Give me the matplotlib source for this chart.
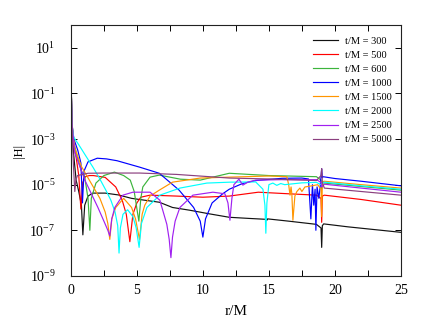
import numpy as np
import matplotlib
matplotlib.use("Agg")
import matplotlib.pyplot as plt
from matplotlib.ticker import FixedLocator, MultipleLocator, NullLocator

plt.rcParams['font.family'] = ['Liberation Serif', 'DejaVu Serif']
plt.rcParams['mathtext.fontset'] = 'custom'
plt.rcParams['mathtext.rm'] = 'Liberation Serif'
plt.rcParams['mathtext.it'] = 'Liberation Serif:italic'
plt.rcParams['mathtext.bf'] = 'Liberation Serif:bold'

labels = ["t/M = 300", "t/M = 500", "t/M = 600", "t/M = 1000",
          "t/M = 1500", "t/M = 2000", "t/M = 2500", "t/M = 5000"]
colors = ["#111111", "#ff0000", "#3cb43c", "#0000ff",
          "#ff9500", "#00ffff", "#a020f0", "#8b3f7f"]

# r/M positions and log10|H| values
r_300 = [0, 0.08, 0.2, 0.4, 0.6, 0.8, 0.91, 1.05, 1.3, 1.67, 2.6, 3.6, 4.6, 5.2, 6.7, 7.7, 9.0,
         10.5, 12.0, 13.5, 14.8, 14.85, 14.9, 16.5, 18.6, 18.95, 19.0, 19.05, 19.15, 21, 23, 25]
e_300 = [0.2, -2.3, -3.6, -4.8, -5.3, -5.9, -7.2, -5.9, -5.5, -5.37, -5.37, -5.45, -5.6, -5.65,
         -5.77, -6.0, -6.12, -6.28, -6.43, -6.48, -6.52, -6.56, -6.5, -6.6, -6.74, -6.9, -7.75,
         -6.8, -6.72, -6.85, -6.97, -7.09]

r_500 = [0, 0.08, 0.2, 0.4, 0.6, 0.76, 0.9, 1.1, 1.4, 1.7, 2.6, 3.4, 3.9, 4.2, 4.47, 4.7, 5.0,
         5.3, 6.0, 8.0, 10.0, 12.0, 14.2, 16.5, 18.6, 18.95, 19.0, 19.05, 19.2, 22, 25]
e_500 = [0.2, -2.3, -3.2, -3.8, -4.6, -6.07, -4.9, -4.65, -4.6, -4.6, -4.68, -5.1, -5.7, -6.3,
         -7.5, -6.3, -5.8, -5.55, -5.46, -5.5, -5.55, -5.5, -5.33, -5.4, -5.46, -5.6, -6.65,
         -5.5, -5.46, -5.65, -5.9]

r_600 = [0, 0.08, 0.2, 0.5, 0.8, 1.05, 1.3, 1.44, 1.55, 1.9, 2.5, 3.3, 4.0, 4.5, 4.8, 5.15,
         5.3, 5.45, 6.0, 6.7, 8.3, 9.8, 12.0, 15.0, 18.6, 18.95, 19.0, 19.1, 19.2, 22, 25]
e_600 = [0.2, -2.3, -3.1, -3.8, -4.4, -4.67, -5.6, -7.0, -5.6, -4.93, -4.6, -4.45, -4.6, -4.8,
         -5.3, -6.6, -5.6, -5.1, -4.67, -4.58, -4.76, -4.8, -4.5, -4.6, -4.65, -4.8, -5.2,
         -4.85, -4.93, -5.08, -5.24]

r_1000 = [0, 0.08, 0.23, 0.53, 0.76, 0.88, 1.0, 1.3, 2.0, 2.7, 3.5, 5.2, 6.7, 8.2, 9.3, 9.8,
          10.0, 10.2, 10.7, 11.5, 12.0, 13.0, 14.0, 16.0, 17.5, 18.0, 18.18, 18.3, 18.4, 18.5,
          18.56, 18.65, 18.79, 18.9, 19.0, 19.05, 19.1, 20, 22, 25]
e_1000 = [0.2, -2.3, -3.0, -3.5, -4.05, -5.8, -4.4, -4.0, -3.84, -3.87, -3.95, -4.23, -4.5,
          -5.24, -6.0, -6.6, -7.3, -6.5, -5.8, -5.4, -5.2, -4.95, -4.82, -4.72, -4.71, -4.75,
          -6.5, -5.0, -5.9, -5.2, -7.0, -5.1, -5.6, -5.0, -4.3, -4.7, -4.65, -4.73, -4.85, -5.05]

r_1500 = [0, 0.08, 0.3, 0.8, 1.5, 2.2, 2.6, 2.8, 2.95, 3.1, 3.4, 4.0, 4.6, 4.9, 5.2, 5.4, 5.6,
          6.0, 6.7, 7.7, 9.8, 12.0, 15.0, 16.36, 16.5, 16.6, 16.68, 16.74, 16.82, 16.97, 17.12,
          17.35, 17.5, 17.73, 18.26, 18.7, 18.95, 19.0, 19.05, 19.2, 22, 25]
e_1500 = [0.2, -2.3, -3.4, -4.2, -4.9, -5.6, -6.2, -6.7, -7.4, -6.5, -6.0, -5.6, -6.0, -6.5,
          -7.4, -6.3, -5.9, -5.5, -5.24, -4.89, -4.71, -4.67, -4.62, -4.65, -5.0, -5.46, -5.1,
          -5.4, -6.56, -5.5, -5.3, -5.15, -5.3, -5.1, -5.05, -5.0, -5.2, -6.4, -4.9, -4.85,
          -5.0, -5.15]

r_2000 = [0, 0.08, 0.2, 0.6, 1.2, 1.67, 2.12, 2.65, 3.03, 3.35, 3.55, 3.65, 3.75, 3.95, 4.3,
          4.7, 4.95, 5.17, 5.35, 5.76, 6.74, 8.26, 10.3, 12.05, 14.0, 14.55, 14.7, 14.77, 14.85,
          15.0, 15.3, 15.6, 15.9, 16.2, 17.5, 18.6, 18.95, 19.0, 19.2, 22, 25]
e_2000 = [0.2, -2.3, -2.9, -3.25, -3.8, -4.23, -4.67, -5.24, -5.68, -6.2, -6.8, -8.0, -6.9,
          -6.3, -6.1, -6.4, -6.9, -7.75, -6.7, -6.0, -5.46, -5.15, -4.93, -4.89, -4.88, -5.2,
          -5.9, -7.13, -5.8, -5.0, -4.93, -5.03, -4.95, -5.0, -4.92, -4.9, -5.0, -4.95, -4.89,
          -5.05, -5.2]

r_2500 = [0, 0.08, 0.3, 1.06, 2.05, 2.58, 2.8, 2.95, 3.1, 3.33, 3.94, 4.7, 6.0, 6.74, 7.27,
          7.45, 7.58, 7.7, 7.9, 8.26, 9.24, 10.76, 11.67, 11.9, 12.05, 12.2, 12.35, 12.73,
          13.03, 13.4, 14.0, 16.0, 18.6, 18.95, 19.0, 19.2, 22, 25]
e_2500 = [0.2, -2.3, -3.6, -4.8, -6.0, -6.7, -7.0, -7.25, -6.5, -6.0, -5.46, -5.33, -5.33,
          -5.68, -6.74, -7.4, -8.2, -7.3, -6.6, -6.0, -5.46, -5.33, -5.4, -5.8, -6.56, -5.6,
          -5.0, -4.76, -5.02, -4.89, -4.8, -4.78, -4.78, -4.9, -5.1, -4.98, -5.15, -5.33]

r_5000 = [0, 0.08, 0.2, 0.3, 0.38, 0.5, 0.9, 1.3, 2.5, 5.2, 8.0, 12.0, 15.0, 18.6, 18.95,
          19.0, 19.05, 19.2, 22, 25]
e_5000 = [0.2, -2.3, -4.2, -5.3, -4.8, -4.6, -4.55, -4.5, -4.49, -4.49, -4.55, -4.71, -4.75,
          -4.82, -4.6, -4.3, -4.9, -5.15, -5.3, -5.46]

rs = [r_300, r_500, r_600, r_1000, r_1500, r_2000, r_2500, r_5000]
es = [e_300, e_500, e_600, e_1000, e_1500, e_2000, e_2500, e_5000]

fig = plt.figure(figsize=(4.32, 3.34), dpi=100)
ax = fig.add_axes([0.164, 0.174, 0.764, 0.751])

for r, e, c, lab in zip(rs, es, colors, labels):
    ax.plot(r, 10.0 ** np.array(e), color=c, lw=0.85, label=lab)

ax.set_yscale('log')
ax.set_xlim(0, 25)
ax.set_ylim(1e-9, 1e2)
ax.yaxis.set_major_locator(FixedLocator([1e1, 1e-1, 1e-3, 1e-5, 1e-7, 1e-9]))
ax.yaxis.set_minor_locator(NullLocator())
ax.xaxis.set_major_locator(MultipleLocator(5))
ax.xaxis.set_minor_locator(MultipleLocator(2.5))

ax.tick_params(axis='both', which='both', direction='in', top=True, right=True,
               length=4, width=0.7, labelsize=10)
ax.tick_params(axis='y', pad=11)
ax.tick_params(axis='x', pad=6)
for s in ax.spines.values():
    s.set_linewidth(0.8)
    s.set_color('#222222')

ax.set_xlabel('r/M', fontsize=11)
ax.set_ylabel('|H|', fontsize=9)
ax.xaxis.set_label_coords(0.5, -0.115)
ax.yaxis.set_label_coords(-0.14, 0.5)

leg = ax.legend(loc='upper right', bbox_to_anchor=(1.0, 0.992), frameon=False, fontsize=7.5,
                handlelength=2.4, handletextpad=0.65, labelspacing=0.46, borderaxespad=0.5)

fig.savefig('out.png', dpi=100)
